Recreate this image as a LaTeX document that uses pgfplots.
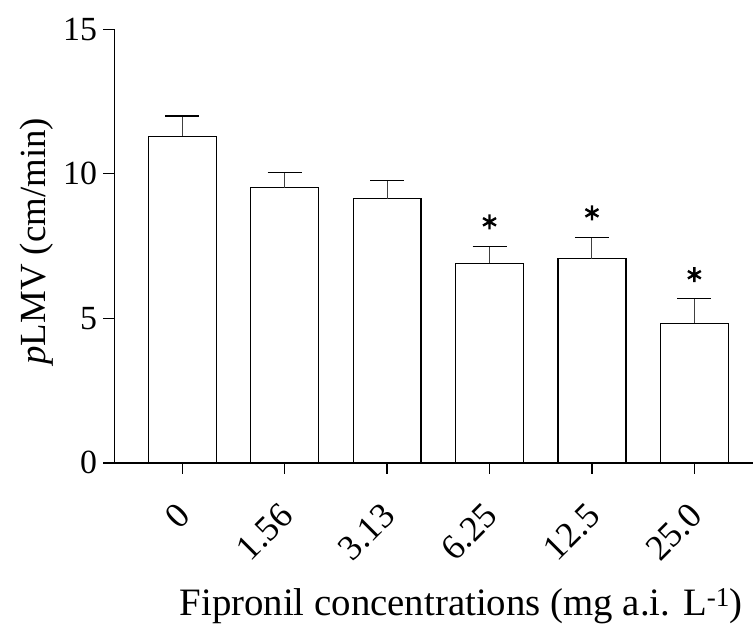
\documentclass[border=0pt]{standalone}
\usepackage{pgfplots}
\pgfplotsset{compat=1.18}
\usepackage{fontspec}
\setmainfont{Liberation Serif}
\begin{document}
\begin{tikzpicture}
\begin{axis}[
  name=ax,
  scale only axis,
  width=639.7bp, height=434bp,
  xmin=-0.665, xmax=5.576,
  ymin=0, ymax=15,
  axis lines=left,
  axis line style={-, line width=1.3bp},
  every tick/.style={black, line width=1.3bp},
  tick align=outside,
  major tick length=11bp,
  ytick={0,5,10,15},
  xtick={0,1,2,3,4,5},
  xticklabels={0,1.56,3.13,6.25,12.5,25.0},
  /pgf/number format/assume math mode=true,
  tick label style={font=\fontsize{34}{40}\selectfont},
  yticklabel style={inner sep=0pt, xshift=-6bp},
  xticklabel style={font=\fontsize{36}{40}\selectfont, xshift=2bp, yshift=-36bp, rotate=45, anchor=east, inner sep=0pt},
  ylabel={\textit{p}LMV (cm/min)},
  xlabel={Fipronil concentrations (mg a.i. L\textsuperscript{-1})},
  label style={font=\fontsize{37}{42}\selectfont},
  ylabel style={at={(axis description cs:0,0.511)}, anchor=center, yshift=78bp},
  xlabel style={at={(axis description cs:0.543,0)}, anchor=base, yshift=-152.5bp, font=\fontsize{39}{44}\selectfont},
  clip=false,
]
\addplot[ybar, bar width=0.663, bar shift=0pt, fill=white, draw=black, line width=1.3bp,
  error bars/.cd, y dir=plus, y explicit,
  error bar style={line width=1bp, black!75},
  error mark options={rotate=90, mark size=17bp, line width=1.1bp, black}]
  coordinates {
  (0,11.30) +- (0,0.70)
  (1,9.52) +- (0,0.53)
  (2,9.14) +- (0,0.63)
  (3,6.90) +- (0,0.59)
  (4,7.06) +- (0,0.73)
  (5,4.83) +- (0,0.87)
  };
\addplot[only marks, mark=asterisk, mark size=7.5bp, line width=2.4bp, black]
  coordinates {(3,8.34) (4,8.65) (5,6.51)};
\end{axis}
\path (ax.south west) ++(-114.3bp,-157.7bp) rectangle ++(754bp,621bp);
\end{tikzpicture}
\end{document}
